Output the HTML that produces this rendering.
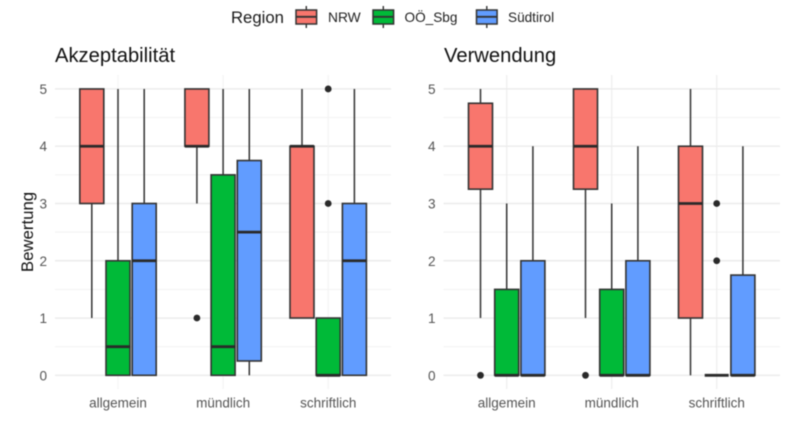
<!DOCTYPE html>
<html lang="de">
<head>
<meta charset="utf-8">
<title>Bewertung nach Region</title>
<style>
html,body{margin:0;padding:0;background:#fff;width:794px;height:434px;overflow:hidden}
svg{display:block;filter:blur(0.45px);font-family:"Liberation Sans",sans-serif}
</style>
</head>
<body>
<svg id="chart" xmlns="http://www.w3.org/2000/svg" width="794" height="434" viewBox="0 0 794 434">
  <rect width="794" height="434" fill="#fff"/>
  <g>
    <text x="231" y="23" font-size="16.7" fill="#1a1a1a">Region</text>
    <g id="legend-keys"></g>
    <text x="328" y="22" font-size="13.8" fill="#222">NRW</text>
    <text x="404.5" y="22" font-size="13.6" fill="#222">OÖ_Sbg</text>
    <text x="508" y="22" font-size="13.6" fill="#222">Südtirol</text>
  </g>
  <text x="55" y="62" font-size="20.2" fill="#111">Akzeptabilität</text>
  <text x="444" y="62" font-size="20.2" fill="#111">Verwendung</text>
  <text transform="translate(33,232) rotate(-90)" text-anchor="middle" font-size="16.8" fill="#111">Bewertung</text>
  <g id="panel-left"></g>
  <g id="panel-right"></g>
</svg>
<script>
// Shared axes
const categories = ['allgemein', 'mündlich', 'schriftlich'];
const yTicks = [0, 1, 2, 3, 4, 5];
const yMinorTicks = [0.5, 1.5, 2.5, 3.5, 4.5];
const regions = ['NRW', 'OÖ_Sbg', 'Südtirol'];
const regionColors = ['#F8766D', '#00BA38', '#619CFF'];

// Each row: [whisker low, q1, median, q3, whisker high], one row per category
const akzeptabilitaetNRW = [[1, 3, 4, 5, 5], [3, 4, 4, 5, 5], [1, 1, 4, 4, 5]];
const akzeptabilitaetOOE = [[0, 0, 0.5, 2, 5], [0, 0, 0.5, 3.5, 5], [0, 0, 0, 1, 1]];
const akzeptabilitaetSued = [[0, 0, 2, 3, 5], [0, 0.25, 2.5, 3.75, 5], [0, 0, 2, 3, 5]];
const verwendungNRW = [[1, 3.25, 4, 4.75, 5], [1, 3.25, 4, 5, 5], [0, 1, 3, 4, 5]];
const verwendungOOE = [[0, 0, 0, 1.5, 3], [0, 0, 0, 1.5, 3], [0, 0, 0, 0, 0]];
const verwendungSued = [[0, 0, 0, 2, 4], [0, 0, 0, 2, 4], [0, 0, 0, 1.75, 4]];

// Outliers per category
const akzeptabilitaetNRWOut = [[], [1], []];
const akzeptabilitaetOOEOut = [[], [], [3, 5]];
const akzeptabilitaetSuedOut = [[], [], []];
const verwendungNRWOut = [[0], [0], []];
const verwendungOOEOut = [[], [], [2, 3]];
const verwendungSuedOut = [[], [], []];

const NS = 'http://www.w3.org/2000/svg';
const INK = '#333333';
const yScale = v => 375.3 - v * 57.27;

function mk(parent, tag, attrs) {
  const el = document.createElementNS(NS, tag);
  for (const k in attrs) el.setAttribute(k, attrs[k]);
  parent.appendChild(el);
  return el;
}

function drawPanel(target, opts) {
  const catX = i => opts.firstX + i * opts.stepX;

  yMinorTicks.forEach(v => {
    const l = mk(target, 'line', {x1: opts.left, x2: opts.right, y1: yScale(v), y2: yScale(v), stroke: '#f0f0f0', 'stroke-width': 0.9});
    
    
  });
  yTicks.forEach(v => {
    const l = mk(target, 'line', {x1: opts.left, x2: opts.right, y1: yScale(v), y2: yScale(v), stroke: '#ebebeb', 'stroke-width': 1.4});
    
    
    const t = mk(target, 'text', {x: opts.left - 8, y: yScale(v) + 5, 'text-anchor': 'end', 'font-size': 13.6, fill: '#555'});
    t.textContent = String(v);
    
    
  });
  categories.forEach((c, i) => {
    const l = mk(target, 'line', {x1: catX(i), x2: catX(i), y1: 75, y2: 389, stroke: opts.gridV, 'stroke-width': 1.1});
    
    
    const t = mk(target, 'text', {x: catX(i), y: 407.5, 'text-anchor': 'middle', 'font-size': 13.5, fill: '#555'});
    t.textContent = c;
    
    
  });

  opts.series.forEach((rows, s) => {
    rows.forEach((row, i) => {
      const cx = catX(i) + (s - 1) * 26.2;
      const [lo, q1, med, q3, hi] = row;
      const g = mk(target, 'g', {});
      
      

      const wTop = mk(g, 'line', {x1: cx, x2: cx, y1: yScale(hi), y2: yScale(q3), stroke: INK, 'stroke-width': 1.5});
      
      
      const wLow = mk(g, 'line', {x1: cx, x2: cx, y1: yScale(q1), y2: yScale(lo), stroke: INK, 'stroke-width': 1.5});
      
      
      const box = mk(g, 'rect', {x: cx - 12, y: yScale(q3), width: 24, height: yScale(q1) - yScale(q3), fill: regionColors[s], stroke: INK, 'stroke-width': 1.6});
      
      
      const m = mk(g, 'line', {x1: cx - 12, x2: cx + 12, y1: yScale(med), y2: yScale(med), stroke: '#2a2a2a', 'stroke-width': 2.8});
      
      

      opts.outliers[s][i].forEach(v => {
        const p = mk(g, 'circle', {cx: cx, cy: yScale(v), r: 3.4, fill: '#2a2a2a'});
        
        
      });
    });
  });
}

drawPanel(document.getElementById('panel-left'), {
  left: 55, right: 391, firstX: 118, stepX: 105.1, gridV: '#f3f3f3',
  series: [akzeptabilitaetNRW, akzeptabilitaetOOE, akzeptabilitaetSued],
  outliers: [akzeptabilitaetNRWOut, akzeptabilitaetOOEOut, akzeptabilitaetSuedOut]
});
drawPanel(document.getElementById('panel-right'), {
  left: 443.5, right: 780, firstX: 506.7, stepX: 105, gridV: '#ececec',
  series: [verwendungNRW, verwendungOOE, verwendungSued],
  outliers: [verwendungNRWOut, verwendungOOEOut, verwendungSuedOut]
});

const legendKeys = document.getElementById('legend-keys');
const legendX = [296, 373, 476.5];
regions.forEach((r, i) => {
  const g = mk(legendKeys, 'g', {});
  
  
  const cx = legendX[i] + 10.3;
  mk(g, 'line', {x1: cx, x2: cx, y1: 6, y2: 28, stroke: INK, 'stroke-width': 1.4});
  mk(g, 'rect', {x: legendX[i], y: 10, width: 20.6, height: 14, fill: regionColors[i], stroke: INK, 'stroke-width': 1.5});
  mk(g, 'line', {x1: legendX[i], x2: legendX[i] + 20.6, y1: 16.8, y2: 16.8, stroke: INK, 'stroke-width': 1.8});
});
</script>
</body>
</html>
